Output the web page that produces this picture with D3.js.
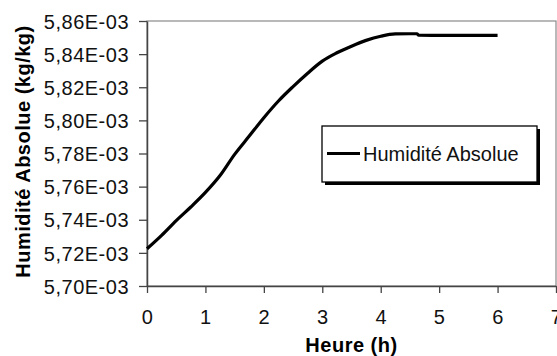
<!DOCTYPE html>
<html>
<head>
<meta charset="utf-8">
<script src="https://cdn.jsdelivr.net/npm/d3@7/dist/d3.min.js"></script>
<style>
  html, body { margin: 0; padding: 0; background: #fff; }
  svg { display: block; font-family: "Liberation Sans", Arial, sans-serif; }
</style>
</head>
<body>
<svg id="chart" width="557" height="356"></svg>
<script>
// ---- data ----
const hours = [0, 0.25, 0.5, 0.75, 1, 1.25, 1.5, 1.75, 2, 2.25, 2.5, 2.75, 3, 3.25, 3.5, 3.75, 4, 4.25, 4.5, 4.62, 4.65, 5, 5.5, 6];
const humidity = [5.7225e-3, 5.7306e-3, 5.7395e-3, 5.7477e-3, 5.7565e-3, 5.7667e-3, 5.7795e-3, 5.7905e-3, 5.8016e-3, 5.8117e-3, 5.8204e-3, 5.8285e-3, 5.8358e-3, 5.8408e-3, 5.8448e-3, 5.8483e-3, 5.8508e-3, 5.8522e-3, 5.8523e-3, 5.8523e-3, 5.8514e-3, 5.8513e-3, 5.8513e-3, 5.8513e-3];
const xTicks = [0, 1, 2, 3, 4, 5, 6, 7];
const yTicks = [5.70e-3, 5.72e-3, 5.74e-3, 5.76e-3, 5.78e-3, 5.80e-3, 5.82e-3, 5.84e-3, 5.86e-3];
const seriesName = "Humidité Absolue";
const xTitle = "Heure (h)";
const yTitle = "Humidité Absolue (kg/kg)";

// ---- layout ----
const svg = d3.select("#chart");
const m = { left: 147, right: 556, top: 21, bottom: 286 };
const x = d3.scaleLinear().domain([0, 7]).range([m.left, m.right]);
const y = d3.scaleLinear().domain([5.70e-3, 5.86e-3]).range([m.bottom, m.top]);

const fmt = v => {
  const s = (v * 1000).toFixed(2).replace(".", ",");
  return s + "E-03";
};

// plot area border
svg.append("rect")
  .attr("x", m.left).attr("y", m.top)
  .attr("width", m.right - m.left).attr("height", m.bottom - m.top)
  .attr("fill", "#fff").attr("stroke", "#8a8a8a").attr("stroke-width", 1.2);

// axes
const xAxis = svg.append("g")
  .attr("transform", `translate(0,${m.bottom})`)
  .call(d3.axisBottom(x).tickValues(xTicks).tickSize(7).tickSizeOuter(0).tickFormat(d3.format("d")));
const yAxis = svg.append("g")
  .attr("transform", `translate(${m.left},0)`)
  .call(d3.axisLeft(y).tickValues(yTicks).tickSize(8).tickSizeOuter(0).tickFormat(fmt));

[xAxis, yAxis].forEach(g => {
  g.select(".domain").attr("stroke", "#444").attr("stroke-width", 1.5);
  g.selectAll(".tick line").attr("stroke", "#444").attr("stroke-width", 1.3);
  g.selectAll(".tick text")
    .attr("fill", "#111")
    .style("font-family", '"Liberation Sans", Arial, sans-serif')
    .style("font-size", "20px")
    .style("letter-spacing", "0.5px");
});
xAxis.selectAll(".tick text").attr("y", 24);
yAxis.selectAll(".tick text").attr("x", -18).attr("dy", "0.36em");

// line
const line = d3.line()
  .x((d, i) => x(hours[i]))
  .y(d => y(d))
  .curve(d3.curveMonotoneX);
svg.append("path")
  .datum(humidity)
  .attr("fill", "none")
  .attr("stroke", "#000")
  .attr("stroke-width", 3.2)
  .attr("stroke-linejoin", "round")
  .attr("d", line);

// axis titles
svg.append("text")
  .attr("x", (m.left + m.right) / 2).attr("y", 351.5)
  .attr("text-anchor", "middle")
  .style("font-size", "20px").style("font-weight", "bold").style("letter-spacing", "0.5px")
  .attr("fill", "#000")
  .text(xTitle);
svg.append("text")
  .attr("transform", "translate(30,151.5) rotate(-90)")
  .attr("text-anchor", "middle")
  .style("font-size", "20px").style("font-weight", "bold").style("letter-spacing", "0.5px")
  .attr("fill", "#000")
  .text(yTitle);

// legend
const lg = svg.append("g");
lg.append("rect").attr("x", 325).attr("y", 129).attr("width", 215).attr("height", 56).attr("fill", "#000");
lg.append("rect").attr("x", 322).attr("y", 126).attr("width", 215).attr("height", 56)
  .attr("fill", "#fff").attr("stroke", "#000").attr("stroke-width", 1.3);
lg.append("line").attr("x1", 327).attr("x2", 360).attr("y1", 153.5).attr("y2", 153.5)
  .attr("stroke", "#000").attr("stroke-width", 3.2);
lg.append("text").attr("x", 363).attr("y", 160.5)
  .style("font-size", "20px").attr("fill", "#111")
  .text(seriesName);
</script>
</body>
</html>
